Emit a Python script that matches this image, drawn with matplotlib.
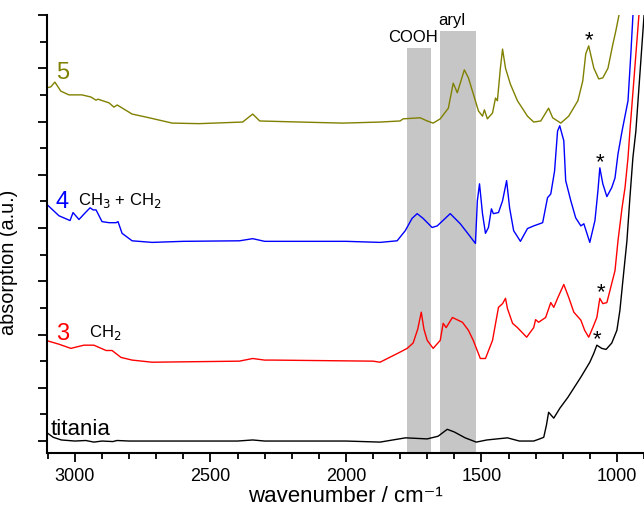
import matplotlib
matplotlib.use("Agg")
import matplotlib.pyplot as plt
from matplotlib.ticker import MultipleLocator

plt.rcParams['font.family'] = ['Liberation Sans', 'DejaVu Sans']

# titania (black)
wn_ti = [3107, 3080, 3050, 3000, 2960, 2930, 2900, 2860, 2845, 2800, 2600, 2400, 2344, 2300,
         2000, 1874, 1780, 1700, 1660, 1626, 1600, 1560, 1519, 1480, 1404, 1360, 1307, 1285,
         1270, 1260, 1252, 1240, 1233, 1210, 1181, 1133, 1100, 1085, 1074, 1056, 1040, 1019,
         1000, 989, 978, 963, 952, 941, 930, 900, 890]
ab_ti = [0.17, 0.07, 0.02, 0.00, 0.01, -0.02, 0.00, -0.01, 0.01, 0.00, 0.00, 0.00, 0.02, 0.00,
         0.00, -0.02, 0.06, 0.04, 0.09, 0.22, 0.17, 0.06, -0.02, 0.02, 0.06, 0.00, 0.00, 0.04,
         0.07, 0.30, 0.54, 0.47, 0.43, 0.62, 0.82, 1.20, 1.48, 1.65, 1.80, 1.74, 1.72, 1.84,
         2.08, 2.45, 3.01, 3.76, 4.57, 5.32, 5.82, 7.98, 8.60]

# compound 3 (red)
wn_3 = [3107, 3060, 3015, 2967, 2930, 2885, 2863, 2830, 2789, 2715, 2393, 2344, 2300, 2270,
        1900, 1874, 1800, 1774, 1752, 1735, 1722, 1712, 1700, 1678, 1652, 1641, 1630, 1607,
        1570, 1548, 1530, 1504, 1485, 1459, 1437, 1422, 1411, 1404, 1385, 1367, 1333, 1307,
        1300, 1289, 1263, 1244, 1233, 1219, 1196, 1178, 1159, 1133, 1119, 1104, 1089, 1074,
        1063, 1052, 1037, 1019, 1007, 996, 981, 970, 959, 952, 919, 905]
ab_3 = [1.89, 1.82, 1.74, 1.80, 1.80, 1.70, 1.70, 1.57, 1.52, 1.48, 1.50, 1.55, 1.52, 1.52,
        1.50, 1.48, 1.67, 1.74, 1.84, 2.10, 2.42, 2.10, 1.89, 1.74, 1.89, 2.21, 2.13, 2.32,
        2.23, 2.08, 1.89, 1.55, 1.55, 1.89, 2.51, 2.58, 2.68, 2.49, 2.21, 2.13, 1.95, 2.13,
        2.28, 2.23, 2.32, 2.60, 2.51, 2.68, 2.94, 2.70, 2.42, 2.27, 2.08, 1.95, 2.13, 2.32,
        2.68, 2.58, 2.60, 2.96, 3.20, 3.76, 4.38, 4.76, 5.32, 5.82, 7.98, 8.60]

# compound 4 (blue)
wn_4 = [3107, 3059, 3018, 3007, 2985, 2965, 2944, 2933, 2922, 2900, 2874, 2848, 2841, 2826,
        2789, 2715, 2600, 2393, 2344, 2300, 2000, 1874, 1811, 1781, 1756, 1737, 1715, 1682,
        1663, 1615, 1578, 1552, 1522, 1515, 1507, 1496, 1485, 1474, 1463, 1456, 1437, 1422,
        1407, 1396, 1381, 1356, 1330, 1307, 1274, 1256, 1244, 1230, 1219, 1211, 1196, 1189,
        1170, 1152, 1133, 1122, 1100, 1081, 1070, 1063, 1052, 1037, 1019, 1007, 996, 981,
        959, 948, 941, 930]
ab_4 = [4.46, 4.23, 4.14, 4.29, 4.16, 4.27, 4.38, 4.34, 4.34, 4.12, 4.10, 4.10, 4.12, 3.90,
        3.76, 3.73, 3.75, 3.76, 3.80, 3.75, 3.75, 3.73, 3.76, 3.95, 4.18, 4.27, 4.18, 4.01,
        4.04, 4.27, 4.08, 3.91, 3.71, 4.51, 4.83, 4.27, 3.90, 4.01, 4.36, 4.27, 4.29, 4.51,
        4.89, 4.38, 3.95, 3.75, 3.99, 4.04, 4.10, 4.57, 4.64, 5.07, 5.82, 5.92, 5.64, 4.89,
        4.51, 4.19, 4.04, 4.08, 3.73, 4.14, 4.70, 5.13, 4.83, 4.59, 4.76, 4.94, 5.39, 5.82,
        6.39, 7.32, 7.98, 8.60]

# compound 5 (olive)
wn_5 = [3107, 3089, 3074, 3052, 3022, 2974, 2941, 2922, 2915, 2874, 2856, 2844, 2789, 2726,
        2641, 2541, 2381, 2344, 2318, 2170, 2011, 1874, 1800, 1789, 1726, 1700, 1678, 1652,
        1622, 1604, 1589, 1563, 1548, 1530, 1511, 1496, 1489, 1478, 1459, 1448, 1441, 1430,
        1422, 1411, 1393, 1367, 1330, 1307, 1281, 1263, 1252, 1237, 1207, 1178, 1144, 1126,
        1115, 1104, 1085, 1067, 1052, 1033, 1015, 1004, 993, 985]
ab_5 = [6.63, 6.65, 6.74, 6.57, 6.50, 6.50, 6.46, 6.40, 6.42, 6.35, 6.27, 6.31, 6.14, 6.07,
        5.97, 5.96, 5.99, 6.14, 6.01, 5.99, 5.97, 5.99, 6.01, 6.05, 6.07, 6.01, 5.97, 6.05,
        6.25, 6.72, 6.54, 6.97, 6.82, 6.52, 6.20, 6.10, 6.22, 6.05, 6.16, 6.44, 6.39, 7.00,
        7.36, 7.00, 6.70, 6.39, 6.10, 5.99, 6.01, 6.16, 6.25, 6.07, 5.97, 6.10, 6.39, 6.76,
        7.27, 7.42, 7.00, 6.80, 6.82, 7.00, 7.45, 7.70, 7.98, 8.30]

# shaded regions and their labels
band_names = ["COOH", "aryl"]
band_start = [1774, 1652]
band_end = [1685, 1519]
band_top = [7.38, 7.70]
band_label_wn = [1752, 1609]

# asterisk positions (wavenumber, absorption)
star_wn = [1104, 1063, 1060, 1074]
star_ab = [7.52, 5.22, 2.78, 1.90]

fig = plt.figure(figsize=(6.44, 5.12), dpi=100)
ax = fig.add_axes([0.073, 0.1152, 0.927, 0.8555])

for s, e, t in zip(band_start, band_end, band_top):
    ax.fill_between([s, e], -0.5, t, color='#c6c6c6', lw=0, zorder=0)
for name, x, t in zip(band_names, band_label_wn, band_top):
    ax.text(x, t + 0.05, name, ha='center', va='bottom', fontsize=12)

lw = 1.0
ax.plot(wn_ti, ab_ti, color='black', lw=lw)
ax.plot(wn_3, ab_3, color='#ff0000', lw=lw)
ax.plot(wn_4, ab_4, color='#0000ff', lw=lw)
ax.plot(wn_5, ab_5, color='#808000', lw=lw)

ax.text(3070, 6.80, "5", color='#808000', fontsize=17)
ax.text(3070, 4.38, "4", color='#0000ff', fontsize=17)
ax.text(3070, 1.89, "3", color='#ff0000', fontsize=17)
ax.text(3089, 0.11, "titania", color='black', fontsize=16)
ax.text(2989, 4.44, "CH$_3$ + CH$_2$", fontsize=12)
ax.text(2948, 1.95, "CH$_2$", fontsize=12)

for x, y in zip(star_wn, star_ab):
    ax.text(x, y, "*", ha='center', va='center', fontsize=16)

ax.set_xlim(3103, 900)
ax.set_ylim(-0.225, 8.0)
ax.xaxis.set_major_locator(MultipleLocator(500))
ax.xaxis.set_minor_locator(MultipleLocator(100))
ax.yaxis.set_major_locator(MultipleLocator(1))
ax.yaxis.set_minor_locator(MultipleLocator(0.5))
ax.set_yticklabels([])
ax.tick_params(axis='both', which='major', direction='out', length=6.5, width=1.3, labelsize=13, pad=4)
ax.tick_params(axis='both', which='minor', direction='out', length=4, width=1.3)
ax.tick_params(axis='y', which='minor', length=5)

for side in ['top', 'right']:
    ax.spines[side].set_visible(False)
for side in ['left', 'bottom']:
    ax.spines[side].set_linewidth(1.5)

ax.set_xlabel("wavenumber / cm\u207b\u00b9", fontsize=16, labelpad=1,
              family=['Liberation Sans', 'DejaVu Sans'])
ax.set_ylabel("absorption (a.u.)", fontsize=14.3)
ax.yaxis.set_label_coords(-0.048, 0.435)

fig.savefig("out.png", dpi=100)
